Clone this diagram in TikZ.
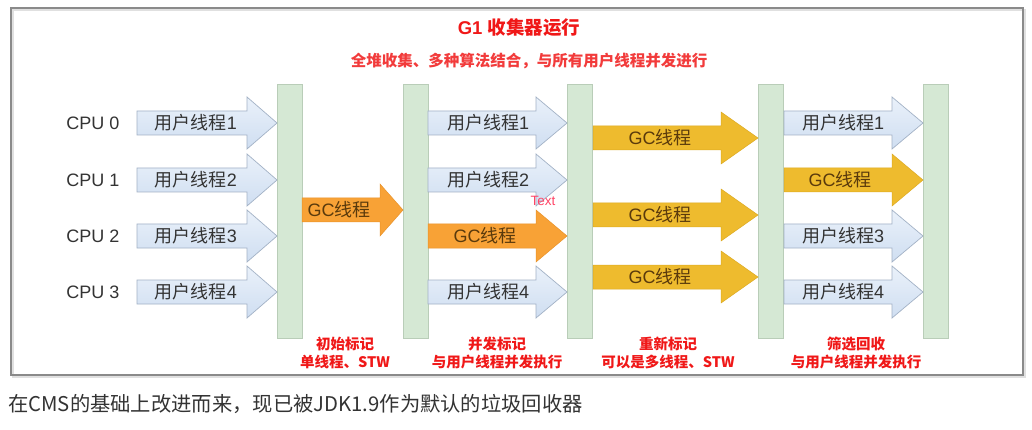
\documentclass[tikz,border=0pt]{standalone}
\usepackage{fontspec}
\setmainfont{Liberation Sans}
\newfontfamily\cjk{Noto Sans CJK SC}
\definecolor{frameC}{HTML}{8A8A8A}
\definecolor{barFill}{HTML}{D5E8D4}
\definecolor{barLine}{HTML}{B9CDB8}
\definecolor{userTop}{HTML}{EAF1FA}
\definecolor{userBot}{HTML}{CFDEF1}
\definecolor{userLine}{HTML}{A3B2C6}
\definecolor{orangeC}{HTML}{F8A236}
\definecolor{orangeL}{HTML}{E8922A}
\definecolor{yellowC}{HTML}{EEBB2E}
\definecolor{yellowL}{HTML}{DDAA22}
\definecolor{redC}{HTML}{F01818}
\definecolor{pinkC}{HTML}{FF4466}
\definecolor{gcText}{HTML}{5A3A0C}
\definecolor{capText}{HTML}{333333}
\newcommand\blockarr[5]{% style, x start, x tip, y, head length
  \path[#1] (#2,#4-12) -- (#3-#5,#4-12) -- (#3-#5,#4-26) -- (#3,#4)
    -- (#3-#5,#4+26) -- (#3-#5,#4+12) -- (#2,#4+12) -- cycle;}
\tikzset{
  barbox/.style={draw=barLine, fill=barFill, line width=0.8pt, minimum width=25pt, minimum height=254pt, inner sep=0pt},
  userarr/.style={draw=userLine, line width=0.7pt, top color=userTop, bottom color=userBot},
  orangearr/.style={draw=orangeL, line width=0.5pt, fill=orangeC},
  yellowarr/.style={draw=yellowL, line width=0.5pt, fill=yellowC},
  usertxt/.style={font=\fontsize{18}{20}\selectfont, text=black!80, inner sep=0pt},
  gctxt/.style={font=\fontsize{18}{20}\selectfont, text=gcText, inner sep=0pt},
  cputxt/.style={font=\fontsize{18}{20}\selectfont, text=black!80, inner sep=0pt},
  redlbl/.style={font=\cjk\bfseries\fontsize{14.5}{18}\selectfont, text=redC, align=center, inner sep=0pt},
}
\newcommand\gc{GC{\cjk 线程}}
\begin{document}
\begin{tikzpicture}[x=1pt,y=-1pt]
\useasboundingbox (0,0) rectangle (1032,430);
\fill[white] (0,0) rectangle (1032,430);
% frame
\draw[black!12, line width=1.5pt] (13,10) rectangle (1025,377);
\draw[frameC, line width=1.4pt] (11,8) rectangle (1023,375);
% title
\node[font=\bfseries\fontsize{18.5}{20}\selectfont, text=redC, inner sep=0pt] (title) at (519,28) {G1 {\cjk\bfseries 收集器运行}};
\node[font=\cjk\bfseries\fontsize{15.5}{18}\selectfont, text=redC!85!white, inner sep=0pt] (subtitle) at (529,61) {全堆收集、多种算法结合，与所有用户线程并发进行};
% bars
\node[barbox] (b1) at (289.5,211) {};
\node[barbox] (b2) at (415.5,211) {};
\node[barbox] (b3) at (580,211) {};
\node[barbox] (b4) at (771,211) {};
\node[barbox] (b5) at (936,211) {};
% CPU labels
\node[cputxt] (cpu0) at (93,123) {CPU 0};
\node[cputxt] (cpu1) at (93,180) {CPU 1};
\node[cputxt] (cpu2) at (93,236) {CPU 2};
\node[cputxt] (cpu3) at (93,292) {CPU 3};
% phase 0: user threads
\blockarr{userarr}{137}{277}{123}{30}
\blockarr{userarr}{137}{277}{180}{30}
\blockarr{userarr}{137}{277}{236}{30}
\blockarr{userarr}{137}{277}{292}{30}
\node[usertxt] (u01) at (196,123) {{\cjk 用户线程}1};
\node[usertxt] (u02) at (196,180) {{\cjk 用户线程}2};
\node[usertxt] (u03) at (196,236) {{\cjk 用户线程}3};
\node[usertxt] (u04) at (196,292) {{\cjk 用户线程}4};
% phase 1: initial mark
\blockarr{orangearr}{302}{403}{210}{23}
\node[gctxt] (g1) at (339,210) {\gc};
% phase 2: concurrent mark
\blockarr{userarr}{428}{567}{123}{31}
\blockarr{userarr}{428}{567}{180}{31}
\blockarr{orangearr}{428}{567}{236}{31}
\blockarr{userarr}{428}{567}{292}{31}
\node[usertxt] (u21) at (488,123) {{\cjk 用户线程}1};
\node[usertxt] (u22) at (488,180) {{\cjk 用户线程}2};
\node[gctxt] (g2) at (485,236) {\gc};
\node[usertxt] (u24) at (488,292) {{\cjk 用户线程}4};
\node[font=\fontsize{13.5}{15}\selectfont, text=pinkC, inner sep=0pt] (txt) at (543,201) {Text};
% phase 3: remark
\blockarr{yellowarr}{593}{758}{138}{37}
\blockarr{yellowarr}{593}{758}{215}{37}
\blockarr{yellowarr}{593}{758}{277}{37}
\node[gctxt] (g31) at (660,138) {\gc};
\node[gctxt] (g32) at (660,215) {\gc};
\node[gctxt] (g33) at (660,277) {\gc};
% phase 4: cleanup
\blockarr{userarr}{784}{923}{123}{31}
\blockarr{yellowarr}{784}{923}{180}{31}
\blockarr{userarr}{784}{923}{236}{31}
\blockarr{userarr}{784}{923}{292}{31}
\node[usertxt] (u41) at (843,123) {{\cjk 用户线程}1};
\node[gctxt] (g4) at (840,180) {\gc};
\node[usertxt] (u43) at (843,236) {{\cjk 用户线程}3};
\node[usertxt] (u44) at (843,292) {{\cjk 用户线程}4};
% phase labels
\node[redlbl] (l1) at (345,353) {初始标记\\单线程、STW};
\node[redlbl] (l2) at (497,353) {并发标记\\与用户线程并发执行};
\node[redlbl] (l3) at (668,353) {重新标记\\可以是多线程、STW};
\node[redlbl] (l4) at (856,353) {筛选回收\\与用户线程并发执行};
% caption
\node[anchor=west, font=\cjk\fontsize{20.3}{23}\selectfont, text=capText, inner sep=0pt] (cap) at (8,404) {在CMS的基础上改进而来，现已被JDK1.9作为默认的垃圾回收器};
\end{tikzpicture}
\end{document}
